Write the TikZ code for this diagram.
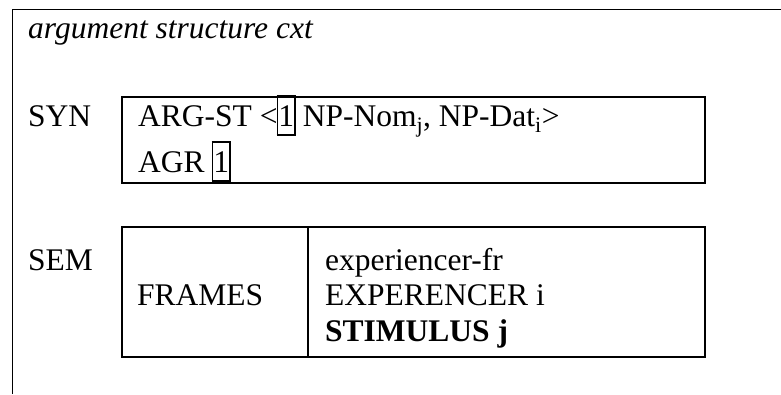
\documentclass[tikz,border=0pt]{standalone}
\usepackage{fontspec}
\setmainfont{Liberation Serif}
\newcommand{\boxone}{{\setlength\fboxsep{0pt}\setlength\fboxrule{1.8pt}\kern-1pt\fbox{\rule[-8pt]{0pt}{37pt}1}\kern-1pt}}
\tikzset{
  txt/.style={anchor=base west, inner sep=0pt, font=\fontsize{31.5}{35.5}\selectfont},
  avmbox/.style={draw, anchor=north west, inner sep=0pt},
}
\begin{document}
\begin{tikzpicture}[x=1pt,y=-1pt]
\useasboundingbox (0,0) rectangle (781,394);
% outer frame
\coordinate (fbl) at (12.7,394);
\coordinate (ftl) at (12.7,9.3);
\coordinate (ftr) at (781,9.3);
\draw[line width=1.3pt] (fbl) -- (ftl) -- (ftr);
% title
\node[txt, font=\fontsize{31.5}{35.5}\selectfont\itshape] (title) at (28,38) {argument structure cxt};
% SYN
\node[txt] (syn) at (28,126) {SYN};
\node[avmbox, line width=2pt, minimum width=583pt, minimum height=86pt] (synbox) at (121,96) {};
\node[txt] (argst) at (138,126) {ARG-ST <\boxone{} NP-Nom\textsubscript{j}, NP-Dat\textsubscript{i}>};
\node[txt] (agr) at (138,172) {AGR \boxone};
% SEM
\node[txt] (sem) at (28,270) {SEM};
\node[avmbox, line width=1.5pt, minimum width=583pt, minimum height=130pt] (sembox) at (121,226) {};
\coordinate (dtop) at (308,226);
\coordinate (dbot) at (308,356);
\draw[line width=1.5pt] (dtop) -- (dbot);
\node[txt] (frames) at (137,305.5) {FRAMES};
\node[txt] (r1) at (325,270) {experiencer-fr};
\node[txt] (r2) at (325,305.5) {EXPERENCER i};
\node[txt, font=\fontsize{31.5}{35.5}\selectfont\bfseries] (r3) at (325,341) {STIMULUS j};
\end{tikzpicture}
\end{document}
